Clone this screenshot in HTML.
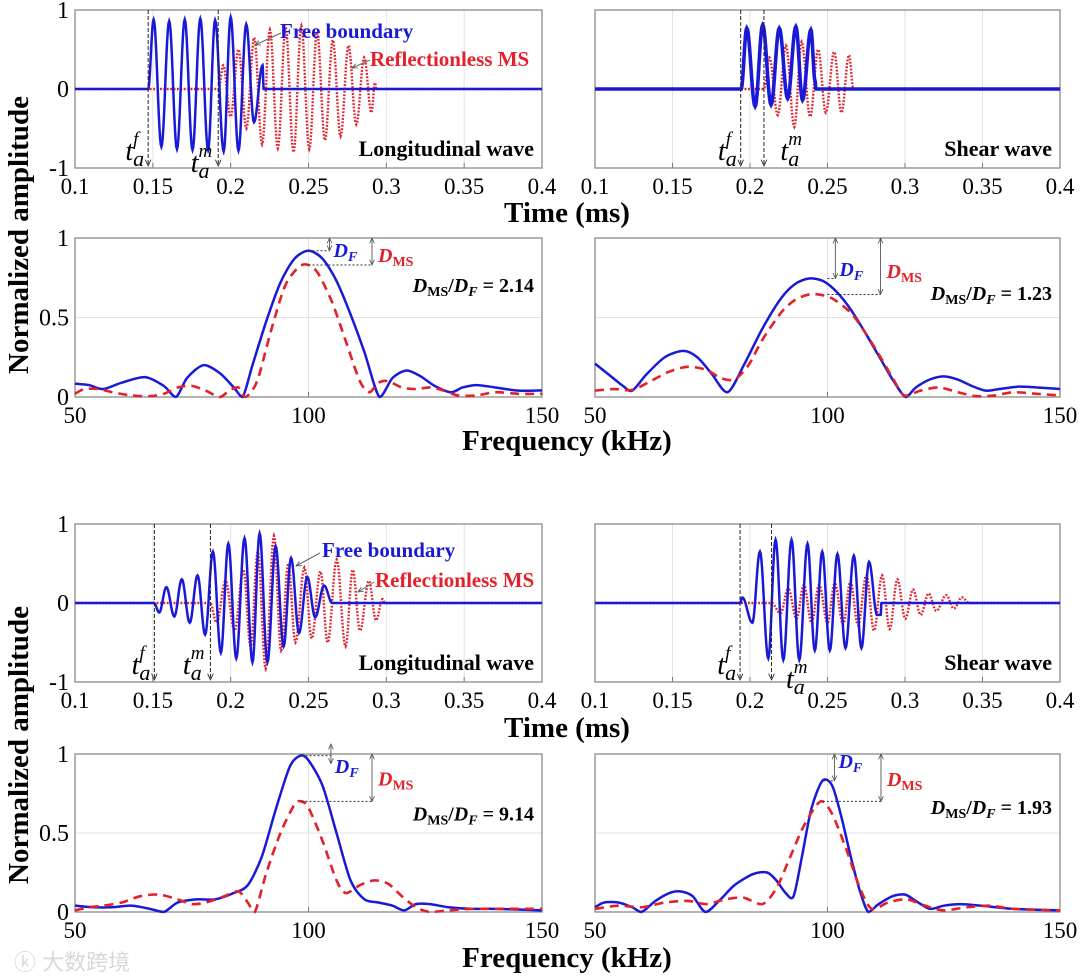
<!DOCTYPE html>
<html><head><meta charset="utf-8">
<style>
html,body{margin:0;padding:0;background:#fff;}
svg{display:block;}
text{font-family:"Liberation Serif",serif;}
</style></head>
<body>
<svg id="fig" width="1080" height="977" viewBox="0 0 1080 977" xmlns="http://www.w3.org/2000/svg">
<defs>
<marker id="ah" viewBox="0 0 10 10" refX="9" refY="5" markerWidth="6" markerHeight="6" orient="auto-start-reverse"><path d="M0,1 L9,5 L0,9" fill="none" stroke="#555" stroke-width="1.4"/></marker>
<marker id="ahb" viewBox="0 0 10 10" refX="9" refY="5" markerWidth="7" markerHeight="7" orient="auto-start-reverse"><path d="M0,1 L9,5 L0,9" fill="none" stroke="#222" stroke-width="1.2"/></marker>
</defs>
<g id="root"></g>
<text transform="translate(28,235) rotate(-90)" text-anchor="middle" font-size="29" font-weight="bold">Normalized amplitude</text>
<text transform="translate(28,745) rotate(-90)" text-anchor="middle" font-size="29" font-weight="bold">Normalized amplitude</text>
<text x="567" y="222" text-anchor="middle" font-size="29" font-weight="bold">Time (ms)</text>
<text x="567" y="450" text-anchor="middle" font-size="29" font-weight="bold">Frequency (kHz)</text>
<text x="567" y="737" text-anchor="middle" font-size="29" font-weight="bold">Time (ms)</text>
<text x="567" y="967" text-anchor="middle" font-size="29" font-weight="bold">Frequency (kHz)</text>
<text x="14" y="970" font-size="22" fill="#d8d8d8" style="font-family:'Liberation Sans','Noto Sans CJK SC',sans-serif">ⓚ 大数跨境</text>
</svg>
<script>
// ---------- DATA ----------
const tlFreeT = [0.147,0.1505,0.1555,0.1605,0.1655,0.1705,0.1755,0.1805,0.1855,0.1900,0.1955,0.2000,0.2050,0.2100,0.2150,0.2205,0.2212];
const tlFreeV = [0,0.88,-0.73,0.86,-0.76,0.88,-0.77,0.89,-0.77,0.87,-0.79,0.91,-0.78,0.82,-0.42,0.30,0];
const tlMsT = [0.1922,0.1952,0.2000,0.2050,0.2101,0.2151,0.2202,0.2252,0.2303,0.2353,0.2404,0.2454,0.2505,0.2555,0.2606,0.2656,0.2706,0.2757,0.2807,0.2858,0.2904,0.2927,0.2935];
const tlMsV = [0,0.3,-0.35,0.5,-0.5,0.65,-0.7,0.75,-0.75,0.78,-0.8,0.8,-0.76,0.72,-0.65,0.62,-0.6,0.55,-0.45,0.4,-0.3,0.08,0];
const trFreeT = [0.1943,0.1979,0.2033,0.2082,0.2136,0.2189,0.2243,0.2296,0.2339,0.2393,0.2420,0.2425];
const trFreeV = [0,0.77,-0.22,0.81,-0.2,0.77,-0.12,0.79,-0.14,0.75,0.1,0];
const trMsT = [0.2089,0.2125,0.2179,0.2232,0.2286,0.2333,0.2388,0.2440,0.2489,0.2543,0.2590,0.2639,0.2667];
const trMsV = [0,0.4,-0.33,0.55,-0.48,0.6,-0.35,0.5,-0.3,0.47,-0.3,0.43,0];
const blFreeT = [0.1507,0.1541,0.1587,0.1638,0.1686,0.1737,0.1787,0.1836,0.1886,0.1937,0.1985,0.2036,0.2089,0.2140,0.2186,0.2236,0.2289,0.2340,0.2388,0.2439,0.2492,0.2543,0.2600,0.2653];
const blFreeV = [0,-0.12,0.2,-0.17,0.3,-0.25,0.35,-0.4,0.65,-0.63,0.75,-0.7,0.82,-0.75,0.88,-0.75,0.72,-0.55,0.57,-0.38,0.33,-0.18,0.22,0];
const blMsT = [0.1868,0.1910,0.1967,0.2025,0.2082,0.2128,0.2174,0.2225,0.2278,0.2324,0.2370,0.2416,0.2474,0.2520,0.2577,0.2623,0.2681,0.2738,0.2784,0.2831,0.2888,0.2934,0.2976,0.2990];
const blMsV = [0,-0.25,0.28,-0.35,0.42,-0.55,0.65,-0.83,0.85,-0.6,0.5,-0.5,0.45,-0.45,0.4,-0.5,0.55,-0.55,0.42,-0.35,0.28,-0.22,0.05,0];
const brFreeT = [0.19356,0.19506,0.2015,0.2064,0.2118,0.2165,0.2215,0.2268,0.2318,0.2371,0.2418,0.2466,0.2515,0.2564,0.2616,0.2670,0.2719,0.2768,0.2820,0.2843,0.2848];
const brFreeV = [0,0.07,-0.25,0.65,-0.7,0.8,-0.72,0.8,-0.72,0.75,-0.6,0.65,-0.6,0.62,-0.57,0.6,-0.57,0.52,-0.15,-0.15,0];
const brMsT = [0.2139,0.2197,0.2247,0.2300,0.2348,0.2397,0.2446,0.2500,0.2547,0.2601,0.2648,0.2697,0.2751,0.2800,0.2852,0.2901,0.2951,0.3002,0.3052,0.3101,0.3152,0.3202,0.3266,0.3315,0.3367,0.3416];
const brMsV = [0,-0.13,0.18,-0.2,0.23,-0.25,0.23,-0.25,0.25,-0.27,0.27,-0.28,0.35,-0.35,0.35,-0.33,0.3,-0.2,0.17,-0.15,0.12,-0.1,0.1,-0.07,0.07,0];
const arrivalF = [0.147,0.194,0.151,0.1936];
const arrivalM = [0.192,0.209,0.187,0.2139];
const tlSpecFreeF = [50,53,56,60,65,69,71.6,74,77.5,81,84,85.9,88,91,94,97,100,103,106,109,112,115.2,118,121,124,127,130.5,133,136,140,145,150];
const tlSpecFreeV = [.084,.075,.05,.09,.125,.07,0,.12,.2,.15,.06,0,.2,.48,.72,.87,.92,.87,.73,.52,.28,0,.12,.167,.13,.07,.03,.06,.075,.06,.04,.042];
const tlSpecMsF = [50,52,55,58,62,66,69,72,75,78,81,83,85,86.5,89,92,95,98,100,102,105,108,111,113,115,117,120,123,126,129,132,136,140,145,150];
const tlSpecMsV = [.02,.05,.05,.03,.01,.005,.02,.06,.07,.04,0,.04,.06,0,.1,.42,.7,.82,.83,.78,.6,.35,.1,.03,.09,.1,.06,.05,.06,.04,.01,.01,.03,.02,.02];
const trSpecFreeF = [50,53,56,58,61,65,69,72,75,78.5,82,86,90,93,96,99,102,105,108,111,114,116.8,119,122,125,128,131,134,137,141,145,150];
const trSpecFreeV = [.21,.14,.07,.04,.14,.25,.29,.25,.15,.03,.2,.43,.62,.71,.745,.73,.66,.55,.41,.26,.11,0,.06,.11,.13,.11,.07,.04,.05,.065,.06,.05];
const trSpecMsF = [50,54,58,62,66,70,74,77,80,83,86,90,93,96,98,101,105,108,111,114,116.5,120,124,128,132,136,140,145,150];
const trSpecMsV = [.04,.05,.045,.1,.16,.19,.17,.12,.11,.2,.36,.53,.61,.645,.645,.62,.53,.41,.27,.12,.01,.04,.06,.03,.005,.01,.03,.02,.01];
const blSpecFreeF = [50,54,58,62,66,69,72,76,80,84,87,90,93,96,98.3,100,103,106,109,112,115,118,120.5,123,126,130,135,140,150];
const blSpecFreeV = [.04,.03,.03,.04,.02,0,.06,.08,.08,.12,.17,.35,.65,.92,.99,.96,.8,.5,.2,.08,.06,.04,.01,.05,.05,.03,.02,.02,.01];
const blSpecMsF = [50,53,56,60,64,68,72,75,78,82,85,87,88.5,91,94,97,98.5,100,103,106,108,111,114,117,120,123,126,130,135,140,150];
const blSpecMsV = [.01,.03,.04,.06,.1,.11,.08,.05,.06,.1,.13,.06,0,.25,.5,.68,.7,.66,.45,.2,.12,.17,.2,.18,.1,.03,0,.01,.02,.02,.02];
const brSpecFreeF = [50,52,55,58,60,63,66,68.5,71,73.8,77,80,84,87,89,91,92.7,94.5,96.5,98.9,101,103,105,107,108.8,111,114,116.7,119,122,125,128.5,133,140,150];
const brSpecFreeV = [.03,.06,.06,.03,0,.07,.12,.13,.1,0,.08,.17,.24,.25,.2,.12,.1,.35,.65,.83,.8,.6,.35,.13,0,.05,.1,.11,.07,.02,.04,.05,.04,.02,.01];
const brSpecMsF = [50,55,60,65,70,74,78,82,86,89,92,95,98.5,101,104,107,109.5,113,117,121,125,130,135,140,150];
const brSpecMsV = [.02,.04,.03,.06,.07,.05,.08,.09,.05,.15,.35,.55,.7,.62,.4,.15,.02,.06,.08,.04,.01,.03,.04,.02,.01];
const peakFree = [0.92,0.745,0.99,0.83];
const peakMs = [0.83,0.645,0.70,0.70];
const ratioLabels = ["2.14","1.23","9.14","1.93"];
const timeTicks = [0.1,0.15,0.2,0.25,0.3,0.35,0.4];
const timeTickLabels = ["0.1","0.15","0.2","0.25","0.3","0.35","0.4"];
const freqTicks = [50,100,150];
const ampTicksTime = [-1,0,1];
const ampTicksFreq = [0,0.5,1];

// ---------- DRAWING ----------
const NS="http://www.w3.org/2000/svg";
const root=document.getElementById('root');
function el(tag,attrs,parent){const e=document.createElementNS(NS,tag);for(const k in attrs)e.setAttribute(k,attrs[k]);(parent||root).appendChild(e);return e;}
const BLUE="#1a1ad6", RED="#e4202a";

const cols=[{x0:75,x1:542},{x0:595,x1:1060}];
const rowsT=[{y0:10,y1:168},{y0:524,y1:682}];
const rowsF=[{y0:238,y1:397},{y0:754,y1:912}];

function axisFrame(g,c,r,xt,xl,xdom,yt,ydom,showY,yLabels){
  const sx=v=>c.x0+(v-xdom[0])/(xdom[1]-xdom[0])*(c.x1-c.x0);
  const sy=v=>r.y1-(v-ydom[0])/(ydom[1]-ydom[0])*(r.y1-r.y0);
  xt.forEach((v,i)=>{
    const gl=el('line',{x1:sx(v),x2:sx(v),y1:r.y0,y2:r.y1,stroke:'#e2e2e2','stroke-width':1},g);
    
    
    const tk=el('line',{x1:sx(v),x2:sx(v),y1:r.y1,y2:r.y1-5,stroke:'#777','stroke-width':1},g);
    
    
    const tx=el('text',{x:sx(v),y:r.y1+26,'text-anchor':'middle','font-size':23},g);
    tx.textContent=xl[i];
    
    
  });
  yt.forEach((v,i)=>{
    const gl=el('line',{x1:c.x0,x2:c.x1,y1:sy(v),y2:sy(v),stroke:'#e2e2e2','stroke-width':1},g);
    
    
    if(showY){
      const tx=el('text',{x:c.x0-6,y:sy(v)+8,'text-anchor':'end','font-size':24},g);
      tx.textContent=yLabels[i];
      
      
    }
  });
  const box=el('rect',{x:c.x0,y:r.y0,width:c.x1-c.x0,height:r.y1-r.y0,fill:'none',stroke:'#8a8a8a','stroke-width':1.3},g);
  
  
  return {sx,sy};
}

function wavePath(T,V,sx,sy){
  let d=`M${sx(0.1)},${sy(0)} L${sx(T[0])},${sy(0)}`;
  for(let i=0;i<T.length-1;i++){
    for(let k=1;k<=12;k++){
      const s=k/12, t=T[i]+(T[i+1]-T[i])*s, v=V[i]+(V[i+1]-V[i])*(1-Math.cos(Math.PI*s))/2;
      d+=` L${sx(t).toFixed(2)},${sy(v).toFixed(2)}`;
    }
  }
  d+=` L${sx(0.4)},${sy(0)}`;
  return d;
}
function specPath(F,V,sx,sy){
  const P=F.map((f,i)=>[sx(f),sy(V[i])]);
  let d=`M${P[0][0]},${P[0][1]}`;
  for(let i=0;i<P.length-1;i++){
    const p0=P[Math.max(0,i-1)],p1=P[i],p2=P[i+1],p3=P[Math.min(P.length-1,i+2)];
    const t=0.14;
    const c1=[p1[0]+(p2[0]-p0[0])*t,p1[1]+(p2[1]-p0[1])*t];
    const c2=[p2[0]-(p3[0]-p1[0])*t,p2[1]-(p3[1]-p1[1])*t];
    c1[1]=Math.min(c1[1],sy(0)); c2[1]=Math.min(c2[1],sy(0));
    d+=` C${c1[0].toFixed(2)},${c1[1].toFixed(2)} ${c2[0].toFixed(2)},${c2[1].toFixed(2)} ${p2[0].toFixed(2)},${p2[1].toFixed(2)}`;
  }
  return d;
}
function taLabel(g,x,y,sup){
  const t=el('text',{x:x,y:y,'font-size':28,'font-style':'italic','text-anchor':'end'},g);
  
  
  const a=el('tspan',{},t);a.textContent='t';
  const b=el('tspan',{dy:6,'font-size':22},t);b.textContent='a';
  const c=el('tspan',{dx:-11,dy:-21,'font-size':19},t);c.textContent=sup;
}
function boldLabel(g,x,y,txt,color,anchor,name,size){
  const t=el('text',{x:x,y:y,'font-size':size||21,'font-weight':'bold',fill:color,'text-anchor':anchor||'start'},g);
  t.textContent=txt;
  
  
  return t;
}
function pointer(g,x1,y1,x2,y2){
  const l=el('line',{x1,y1,x2,y2,stroke:'#666','stroke-width':1,'marker-end':'url(#ah)'},g);
  
  
}

const timeSets=[[tlFreeT,tlFreeV,tlMsT,tlMsV],[trFreeT,trFreeV,trMsT,trMsV],[blFreeT,blFreeV,blMsT,blMsV],[brFreeT,brFreeV,brMsT,brMsV]];
const specSets=[[tlSpecFreeF,tlSpecFreeV,tlSpecMsF,tlSpecMsV],[trSpecFreeF,trSpecFreeV,trSpecMsF,trSpecMsV],[blSpecFreeF,blSpecFreeV,blSpecMsF,blSpecMsV],[brSpecFreeF,brSpecFreeV,brSpecMsF,brSpecMsV]];

for(let p=0;p<4;p++){
  const c=cols[p%2], rt=rowsT[Math.floor(p/2)], rf=rowsF[Math.floor(p/2)];
  const left=p%2===0, isLong=left;
  const g=el('g',{});
  
  
  const a=axisFrame(g,c,rt,timeTicks,timeTickLabels,[0.1,0.4],ampTicksTime,[-1,1],left,["-1","0","1"]);
  const [FT,FV,MT,MV]=timeSets[p];
  const rp=el('path',{d:wavePath(MT,MV,a.sx,a.sy),fill:'none',stroke:RED,'stroke-width':2.4,'stroke-dasharray':'1.8 1.6'},g);
  
  
  const bp=el('path',{d:wavePath(FT,FV,a.sx,a.sy),fill:'none',stroke:BLUE,'stroke-width':(p===1?3.6:2.5)},g);
  
  
  [[arrivalF[p],'f'],[arrivalM[p],'m']].forEach(([t,s])=>{
    const x=a.sx(t);
    const l=el('line',{x1:x,x2:x,y1:rt.y0,y2:rt.y1-2,stroke:'#222','stroke-width':1,'stroke-dasharray':'4 2','marker-end':'url(#ahb)'},g);
    
    
  });
  const xf=a.sx(arrivalF[p]), xm=a.sx(arrivalM[p]);
  taLabel(g,xf-4,rt.y1-8,'f');
  if(p===0) taLabel(g,xm-6,rt.y1+4,'m');
  else if(p===1) taLabel(g,xm+38,rt.y1-8,'m');
  else if(p===2) taLabel(g,xm-6,rt.y1-8,'m');
  else taLabel(g,xm+36,rt.y1+6,'m');
  boldLabel(g,c.x1-8,rt.y1-12,isLong?'Longitudinal wave':'Shear wave','#000','end','wave-type-label',22);
  if(p===0){
    boldLabel(g,280,38,'Free boundary',BLUE,'start','free-boundary-label');
    pointer(g,281,33,255,45);
    boldLabel(g,370,66,'Reflectionless MS',RED,'start','reflectionless-ms-label');
    pointer(g,370,60,352,68);
  } else if(p===2){
    boldLabel(g,322,557,'Free boundary',BLUE,'start','free-boundary-label');
    pointer(g,320,553,296,566);
    boldLabel(g,375,587,'Reflectionless MS',RED,'start','reflectionless-ms-label');
    pointer(g,374,582,358,592);
  }
  const g2=el('g',{});
  
  
  const b=axisFrame(g2,c,rf,freqTicks,["50","100","150"],[50,150],ampTicksFreq,[0,1],left,["0","0.5","1"]);
  const [SF,SV,MF,MV2]=specSets[p];
  const sp1=el('path',{d:specPath(SF,SV,b.sx,b.sy),fill:'none',stroke:BLUE,'stroke-width':2.5},g2);
  
  
  const sp2=el('path',{d:specPath(MF,MV2,b.sx,b.sy),fill:'none',stroke:RED,'stroke-width':2.6,'stroke-dasharray':'9 6'},g2);
  
  
  const fA=[104.5,101.7,104.8,101.5][p], fB=[113.6,111.4,113.6,111.5][p], fPk=[100,100,98.5,99][p];
  const y1=b.sy(1), yF=b.sy(peakFree[p]), yM=b.sy(peakMs[p]);
  const dl1=el('line',{x1:b.sx(fPk),x2:b.sx(fA),y1:yF,y2:yF,stroke:'#333','stroke-width':1,'stroke-dasharray':'2 2'},g2);
  
  
  const dl2=el('line',{x1:b.sx(fPk),x2:b.sx(fB),y1:yM,y2:yM,stroke:'#333','stroke-width':1,'stroke-dasharray':'2 2'},g2);
  
  
  const ar1=el('line',{x1:b.sx(fA),x2:b.sx(fA),y1:(p===2?y1-10:y1),y2:(p===2?yF+8:yF),stroke:'#666','stroke-width':1,'marker-start':'url(#ah)','marker-end':'url(#ah)'},g2);
  
  
  const ar2=el('line',{x1:b.sx(fB),x2:b.sx(fB),y1:y1,y2:yM,stroke:'#666','stroke-width':1,'marker-start':'url(#ah)','marker-end':'url(#ah)'},g2);
  
  
  const dfx=b.sx(fA)+4, dfy=(p===1?b.sy(0.76):(p===3?y1+14:y1+19));
  const t1=el('text',{x:dfx,y:dfy,'font-size':20,'font-weight':'bold','font-style':'italic',fill:BLUE},g2);
  
  
  const t1a=el('tspan',{},t1);t1a.textContent='D';
  const t1b=el('tspan',{dy:4,'font-size':14},t1);t1b.textContent='F';
  const dmy=(p===2?b.sy(0.8):(p===3?y1+32:b.sy(peakFree[p]-0.03)));
  const t2=el('text',{x:b.sx(fB)+6,y:(p===0?y1+24:(p===1?b.sy(0.75):dmy)),'font-size':20,'font-weight':'bold','font-style':'italic',fill:RED},g2);
  
  
  const t2a=el('tspan',{},t2);t2a.textContent='D';
  const t2b=el('tspan',{dy:4,'font-size':14,'font-style':'normal'},t2);t2b.textContent='MS';
  const ry=b.sy([0.66,0.61,0.58,0.62][p]);
  const t3=el('text',{x:c.x1-8,y:ry,'font-size':20,'font-weight':'bold','text-anchor':'end'},g2);
  
  
  const s1=el('tspan',{'font-style':'italic'},t3);s1.textContent='D';
  const s2=el('tspan',{dy:4,'font-size':14},t3);s2.textContent='MS';
  const s3=el('tspan',{dy:-4},t3);s3.textContent='/';
  const s4=el('tspan',{'font-style':'italic'},t3);s4.textContent='D';
  const s5=el('tspan',{dy:4,'font-size':14,'font-style':'italic'},t3);s5.textContent='F';
  const s6=el('tspan',{dy:-4},t3);s6.textContent=' = '+ratioLabels[p];
}
</script>
</body></html>
